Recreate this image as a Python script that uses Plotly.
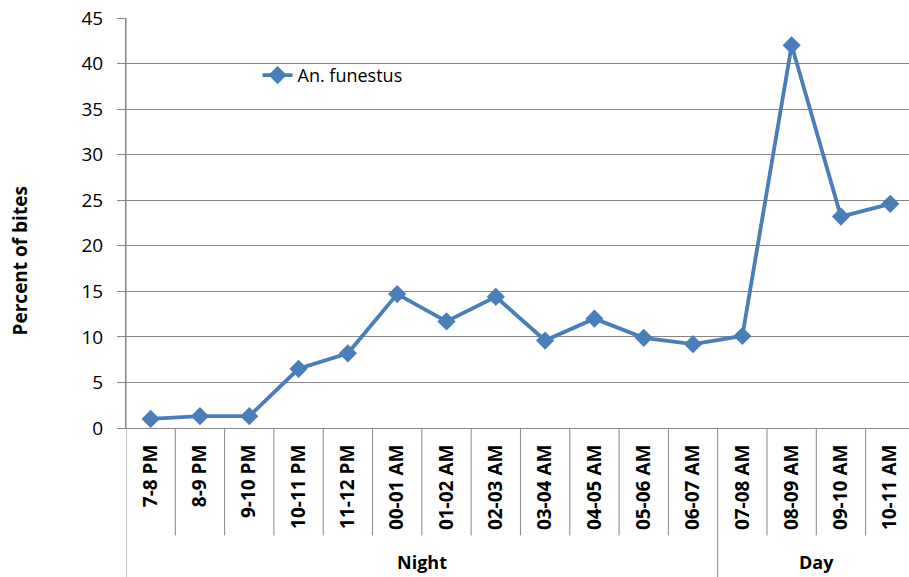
import plotly.graph_objects as go

categories = ["7-8 PM", "8-9 PM", "9-10 PM", "10-11 PM", "11-12 PM", "00-01 AM",
              "01-02 AM", "02-03 AM", "03-04 AM", "04-05 AM", "05-06 AM", "06-07 AM",
              "07-08 AM", "08-09 AM", "09-10 AM", "10-11 AM"]
groups = ["Night"] * 12 + ["Day"] * 4
percent_bites = [1.0, 1.3, 1.3, 6.5, 8.2, 14.7, 11.7, 14.4, 9.6, 12.0, 9.9, 9.2,
                 10.1, 42.0, 23.2, 24.6]
series_name = "An. funestus"
y_ticks = [0, 5, 10, 15, 20, 25, 30, 35, 40, 45]

FONT = "Open Sans"
BLUE = "#4a7ebb"
GRAY = "#868686"

fig = go.Figure()
fig.add_trace(go.Scatter(
    x=list(range(len(categories))), y=percent_bites, name=series_name,
    mode="lines+markers",
    line=dict(color=BLUE, width=3.8),
    marker=dict(symbol="diamond", size=14, color=BLUE),
))

shapes = []
for i in range(1, len(categories)):
    boundary = i - 0.5
    is_group_edge = groups[i] != groups[i - 1]
    shapes.append(dict(type="line", xref="x", yref="paper",
                       x0=boundary, x1=boundary, y0=0,
                       y1=-0.37 if is_group_edge else -0.262,
                       line=dict(color=GRAY, width=1)))
shapes.append(dict(type="line", xref="x", yref="paper", x0=-0.5, x1=-0.5,
                   y0=1, y1=-0.37, line=dict(color=GRAY, width=1)))

annotations = []
unique_groups = []
for g in groups:
    if g not in unique_groups:
        unique_groups.append(g)
for g in unique_groups:
    idx = [i for i, gg in enumerate(groups) if gg == g]
    annotations.append(dict(x=(idx[0] + idx[-1]) / 2, y=-0.327, xref="x", yref="paper",
                            xanchor="center", yanchor="middle",
                            text="<b>%s</b>" % g, showarrow=False,
                            font=dict(family=FONT, size=18, color="black")))
annotations.append(dict(x=-0.135, y=0.407, xref="paper", yref="paper",
                        xanchor="center", yanchor="middle",
                        text="<b>Percent of bites</b>", textangle=-90, showarrow=False,
                        font=dict(family=FONT, size=19, color="black")))

fig.update_layout(
    width=909, height=577,
    margin=dict(l=126, r=0, t=18, b=149),
    paper_bgcolor="white", plot_bgcolor="white",
    font=dict(family=FONT, size=18, color="black"),
    showlegend=True,
    legend=dict(x=0.168, y=0.86, xanchor="left", yanchor="middle",
                bgcolor="rgba(0,0,0,0)", font=dict(family=FONT, size=18),
                itemwidth=30),
    shapes=shapes,
    annotations=annotations,
)
fig.update_xaxes(
    range=[-0.5, 15.38],
    tickmode="array", tickvals=list(range(len(categories))),
    ticktext=["<b>%s</b>" % c for c in categories],
    tickangle=-90, ticks="", showgrid=False, zeroline=False,
    showline=True, linecolor=GRAY, linewidth=1,
    tickfont=dict(family=FONT, size=19, color="black"),
    ticklabelstandoff=8,
)
fig.update_yaxes(
    range=[0, 45], tickmode="array", tickvals=y_ticks,
    ticks="outside", ticklen=8, tickcolor=GRAY,
    showgrid=True, gridcolor=GRAY, gridwidth=1, zeroline=False,
    showline=True, linecolor=GRAY, linewidth=1,
    tickfont=dict(family=FONT, size=19, color="black"),
    ticklabelstandoff=10, ticklabeloverflow="allow", automargin=False,
)

fig.write_html("out.html", config={"displayModeBar": False},
               post_script="document.body.style.margin='0';document.body.style.overflow='hidden';")
